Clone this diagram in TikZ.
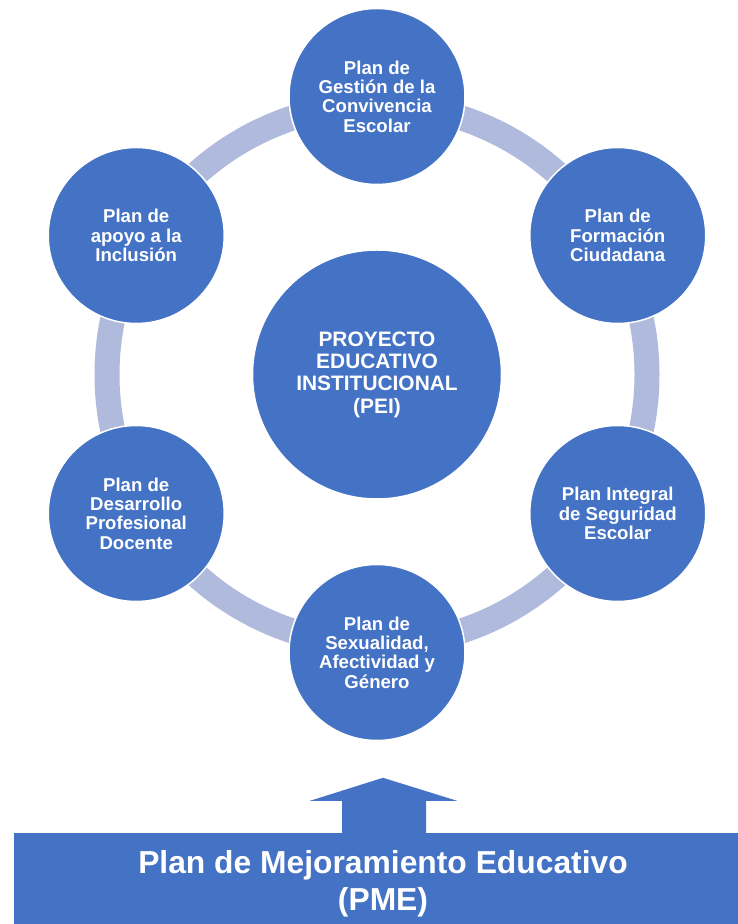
\documentclass[tikz,border=0pt]{standalone}
\usepackage{fontspec}
\setmainfont{Liberation Sans}

\definecolor{pmblue}{RGB}{68,114,196}
\definecolor{ringblue}{RGB}{175,186,220}

\begin{document}
\begin{tikzpicture}[x=1pt,y=1pt]
            \tikzstyle{core} = [circle, fill=pmblue, draw=white, line width=1.5pt, minimum size=249pt, inner sep=0pt, text=white, align=center, font=\bfseries\fontsize{20.9}{22.4}\selectfont]
            \tikzstyle{plan} = [circle, fill=pmblue, draw=white, line width=1.5pt, minimum size=176pt, inner sep=0pt, text=white, align=center, font=\bfseries\fontsize{18.6}{19.3}\selectfont]
            \tikzstyle{ring} = [draw=ringblue, line width=25pt]
            \tikzstyle{bar} = [rectangle, fill=pmblue, minimum width=738pt, minimum height=101pt, inner sep=0pt, text=white, align=center, font=\bfseries\fontsize{31.8}{37}\selectfont]

            \useasboundingbox (0,0) rectangle (738,924);

            \node (pei) [core] at (377,549.5) {PROYECTO\\EDUCATIVO\\INSTITUCIONAL\\(PEI)};

            % anillo detras de los planes
            \draw [ring] (pei.center) circle [radius=270pt];

            \node (gestion) [plan] at ([shift={(90:278)}]pei.center) {Plan de\\Gestión de la\\Convivencia\\Escolar};
            \node (formacion) [plan] at ([shift={(30:278)}]pei.center) {Plan de\\Formación\\Ciudadana};
            \node (seguridad) [plan] at ([shift={(-30:278)}]pei.center) {Plan Integral\\de Seguridad\\Escolar};
            \node (sexualidad) [plan] at ([shift={(-90:278)}]pei.center) {Plan de\\Sexualidad,\\Afectividad y\\Género};
            \node (desarrollo) [plan] at ([shift={(-150:278)}]pei.center) {Plan de\\Desarrollo\\Profesional\\Docente};
            \node (inclusion) [plan] at ([shift={(150:278)}]pei.center) {Plan de\\apoyo a la\\Inclusión};

            \node (pme) [bar] at (383,40.5) {Plan de Mejoramiento Educativo\\(PME)};

            % flecha hacia arriba
            \fill [pmblue] ([xshift=-41pt]pme.north) -- ++(0,32) -- ++(-32,0) -- ++(73,23) -- ++(74,-23) -- ++(-31,0) -- ++(0,-32) -- cycle;
        \end{tikzpicture}
\end{document}
